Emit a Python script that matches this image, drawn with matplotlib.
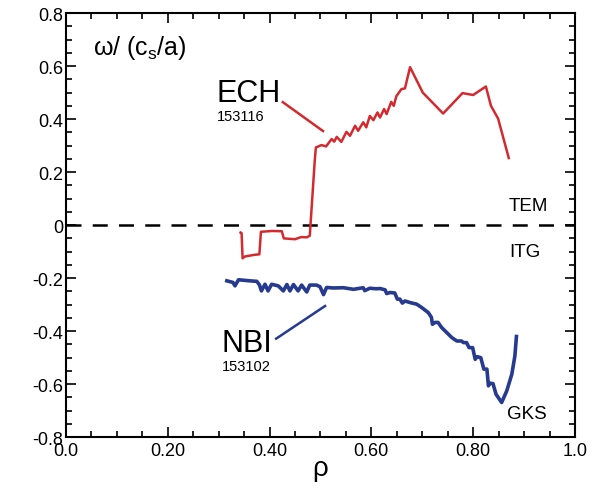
import matplotlib
matplotlib.use("Agg")
import matplotlib.pyplot as plt
from matplotlib.ticker import FixedLocator, FixedFormatter, MultipleLocator

plt.rcParams['font.family'] = ['Liberation Sans', 'DejaVu Sans']
plt.rcParams['mathtext.default'] = 'regular'

# ECH case 153116 (red)
ech_rho = [0.343, 0.345, 0.347, 0.352, 0.370, 0.380, 0.383, 0.405, 0.424, 0.428,
           0.450, 0.462, 0.473, 0.479, 0.489, 0.491, 0.502, 0.511, 0.522, 0.527,
           0.532, 0.541, 0.551, 0.558, 0.568, 0.574, 0.584, 0.590, 0.597, 0.604,
           0.612, 0.617, 0.625, 0.630, 0.639, 0.644, 0.649, 0.659, 0.666, 0.676,
           0.701, 0.741, 0.779, 0.800, 0.825, 0.835, 0.849, 0.870]
ech_omega = [-0.028, -0.030, -0.125, -0.118, -0.112, -0.110, -0.025, -0.022, -0.023, -0.050,
             -0.053, -0.045, -0.046, -0.040, 0.25, 0.293, 0.302, 0.297, 0.325, 0.315,
             0.333, 0.314, 0.352, 0.337, 0.375, 0.356, 0.388, 0.369, 0.412, 0.396,
             0.425, 0.406, 0.438, 0.419, 0.465, 0.450, 0.486, 0.513, 0.516, 0.596,
             0.50, 0.421, 0.498, 0.491, 0.523, 0.450, 0.402, 0.253]

# NBI case 153102 (blue)
nbi_rho = [0.316, 0.328, 0.332, 0.339, 0.361, 0.375, 0.380, 0.384, 0.391, 0.397,
           0.404, 0.417, 0.427, 0.434, 0.440, 0.447, 0.456, 0.463, 0.473, 0.479,
           0.492, 0.499, 0.506, 0.512, 0.525, 0.545, 0.565, 0.584, 0.587, 0.597,
           0.610, 0.617, 0.627, 0.630, 0.637, 0.646, 0.651, 0.656, 0.661, 0.666,
           0.676, 0.689, 0.699, 0.712, 0.718, 0.720, 0.725, 0.731, 0.738, 0.748,
           0.758, 0.768, 0.777, 0.781, 0.787, 0.792, 0.799, 0.804, 0.808, 0.815,
           0.821, 0.827, 0.830, 0.833, 0.839, 0.845, 0.856, 0.866, 0.876, 0.882,
           0.885]
nbi_omega = [-0.210, -0.216, -0.229, -0.206, -0.210, -0.212, -0.225, -0.248, -0.223, -0.248,
             -0.223, -0.229, -0.248, -0.224, -0.248, -0.224, -0.248, -0.226, -0.252, -0.226,
             -0.226, -0.232, -0.262, -0.235, -0.237, -0.236, -0.242, -0.236, -0.247, -0.238,
             -0.240, -0.239, -0.244, -0.258, -0.254, -0.256, -0.279, -0.279, -0.294, -0.286,
             -0.292, -0.298, -0.311, -0.330, -0.348, -0.374, -0.367, -0.367, -0.386, -0.405,
             -0.424, -0.437, -0.437, -0.443, -0.443, -0.462, -0.462, -0.506, -0.496, -0.500,
             -0.543, -0.543, -0.606, -0.596, -0.598, -0.638, -0.669, -0.625, -0.562, -0.493,
             -0.42]

x_ticks = [0.0, 0.2, 0.4, 0.6, 0.8, 1.0]
x_labels = ['0.0', '0.20', '0.40', '0.60', '0.80', '1.0']
y_ticks = [-0.8, -0.6, -0.4, -0.2, 0.0, 0.2, 0.4, 0.6, 0.8]
y_labels = ['-0.8', '-0.6', '-0.4', '-0.2', '0', '0.2', '0.4', '0.6', '0.8']

red = '#d42a2f'
blue = '#263a90'

fig = plt.figure(figsize=(6.11, 5.02), dpi=100)
ax = fig.add_axes([0.108, 0.127, 0.833, 0.845])

ax.axhline(0, color='black', lw=1.8, dashes=(6, 4.5))
ax.plot(ech_rho, ech_omega, color=red, lw=1.8)
ax.plot(nbi_rho, nbi_omega, color=blue, lw=2.6)

# leader lines to labels
ax.plot([0.426, 0.505], [0.464, 0.355], color=red, lw=1.8)
ax.plot([0.413, 0.509], [-0.428, -0.305], color=blue, lw=1.8)

ax.text(0.295, 0.47, 'ECH', fontsize=22, ha='left', va='baseline')
ax.text(0.297, 0.396, '153116', fontsize=10.5, ha='left', va='baseline')
ax.text(0.305, -0.475, 'NBI', fontsize=22, ha='left', va='baseline')
ax.text(0.307, -0.548, '153102', fontsize=10.5, ha='left', va='baseline')
ax.text(0.054, 0.645, 'ω/ (c$_{s}$/a)', fontsize=18, ha='left', va='baseline')
ax.text(0.87, 0.075, 'TEM', fontsize=13.5, ha='left', va='center')
ax.text(0.87, -0.10, 'ITG', fontsize=13.5, ha='left', va='center')
ax.text(0.866, -0.71, 'GKS', fontsize=13.5, ha='left', va='center')

ax.set_xlim(0, 1)
ax.set_ylim(-0.8, 0.8)
ax.xaxis.set_major_locator(FixedLocator(x_ticks))
ax.xaxis.set_major_formatter(FixedFormatter(x_labels))
ax.yaxis.set_major_locator(FixedLocator(y_ticks))
ax.yaxis.set_major_formatter(FixedFormatter(y_labels))
ax.xaxis.set_minor_locator(MultipleLocator(0.05))
ax.yaxis.set_minor_locator(MultipleLocator(0.05))
ax.tick_params(which='both', direction='in', top=True, right=True, width=1.2, labelsize=13)
ax.tick_params(which='major', length=7)
ax.tick_params(which='minor', length=4)
ax.tick_params(axis='y', pad=2)
for s in ax.spines.values():
    s.set_linewidth(1.5)

ax.set_xlabel('ρ', fontsize=20, labelpad=-3)

fig.savefig('out.png', dpi=100)
